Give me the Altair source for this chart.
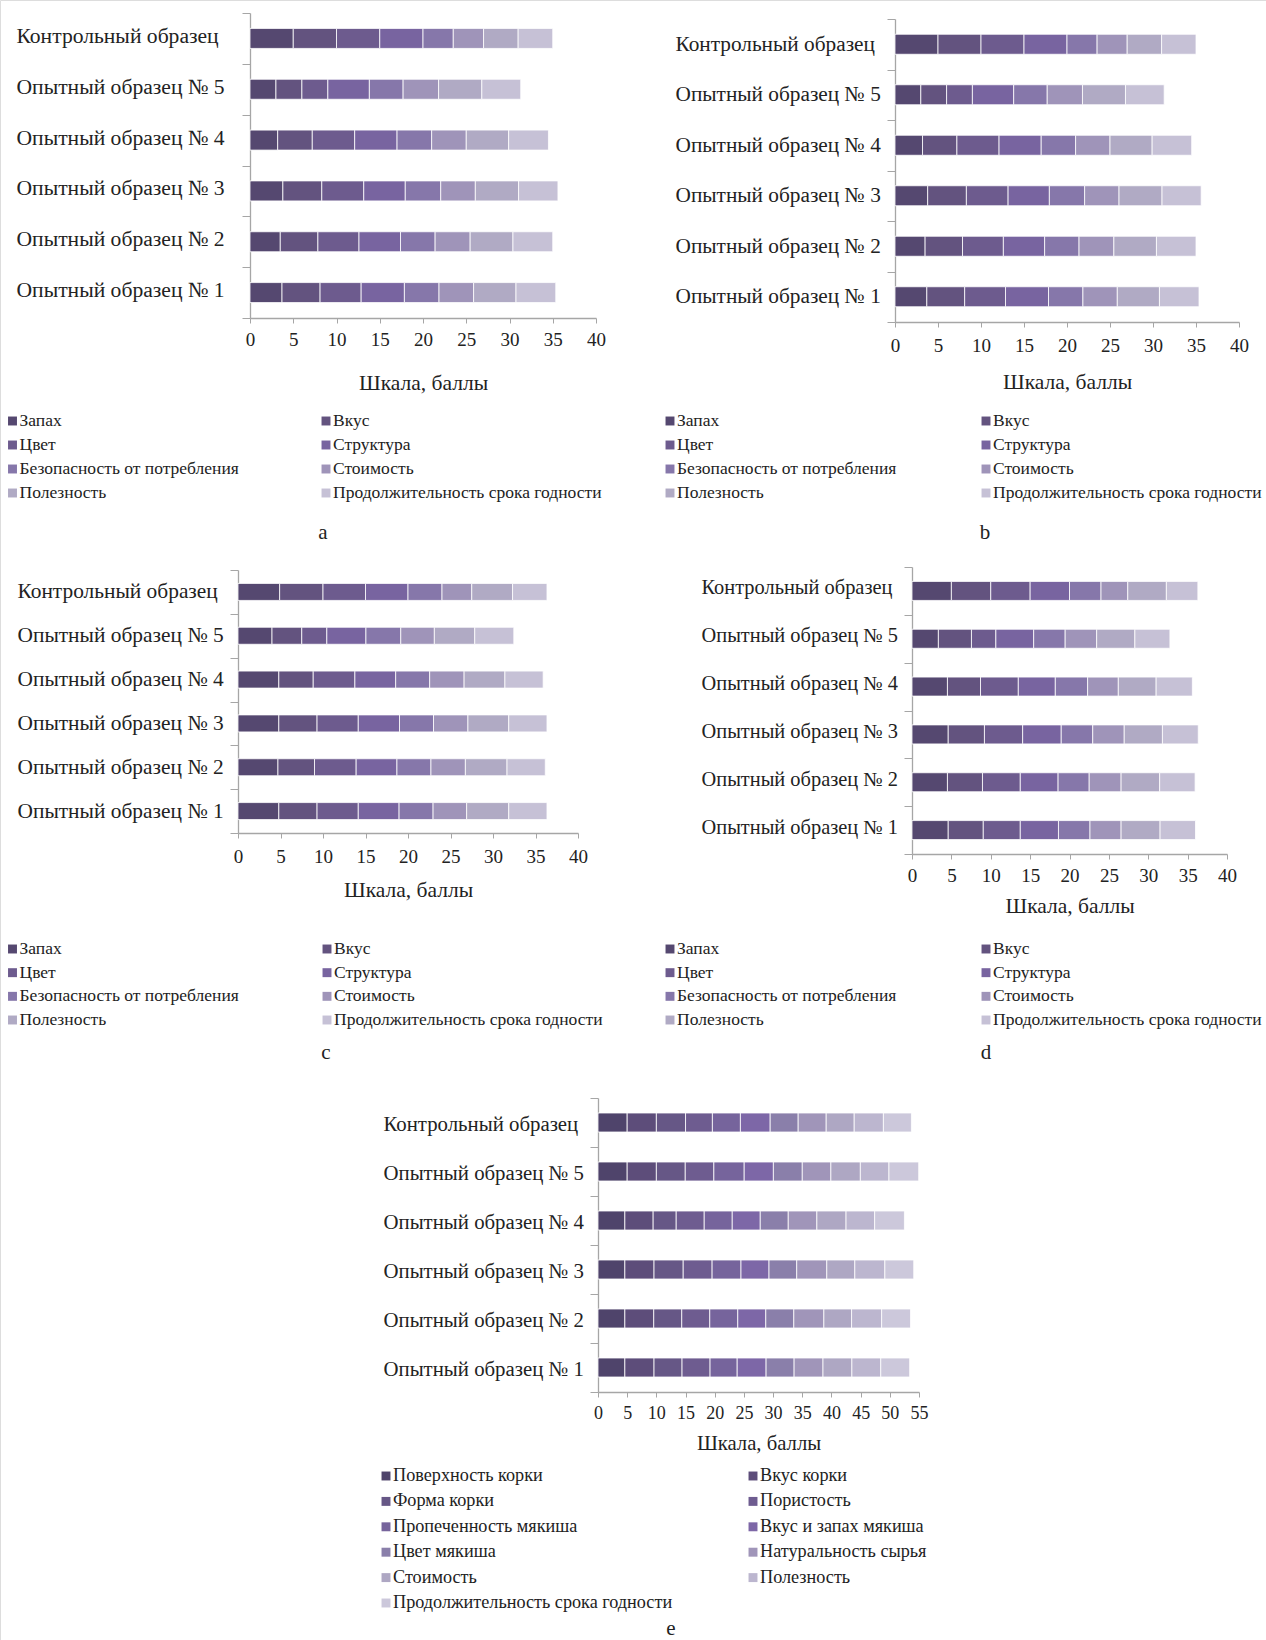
import altair as alt
import pandas as pd

samples = ["Контрольный образец", "Опытный образец № 5", "Опытный образец № 4",
           "Опытный образец № 3", "Опытный образец № 2", "Опытный образец № 1"]

crit8 = ["Запах", "Вкус", "Цвет", "Структура", "Безопасность от потребления",
         "Стоимость", "Полезность", "Продолжительность срока годности"]
crit11 = ["Поверхность корки", "Вкус корки", "Форма корки", "Пористость",
          "Пропеченность мякиша", "Вкус и запах мякиша", "Цвет мякиша",
          "Натуральность сырья", "Стоимость", "Полезность",
          "Продолжительность срока годности"]

colors8 = ["#554870", "#63537F", "#6D5B8E", "#7864A0", "#8677AA", "#9F94B9", "#B0AAC4", "#C6C1D6"]
colors11 = ["#4F446B", "#5D4D7A", "#665786", "#6E5C90", "#76649C", "#7D67A7",
            "#8A7FAA", "#A095B9", "#AEA7C3", "#BCB6CF", "#CCC8DB"]

# values per sample (rows in the order of `samples`), per criterion
a_values = [
    [5, 5, 5, 5, 3.5, 3.5, 4, 4],
    [3, 3, 3, 4.8, 3.9, 4.1, 5, 4.5],
    [3.2, 4.0, 4.9, 4.9, 4.0, 4.0, 4.9, 4.6],
    [3.8, 4.5, 4.85, 4.8, 4.1, 4.0, 5.0, 4.55],
    [3.5, 4.35, 4.75, 4.8, 4.0, 4.05, 4.95, 4.6],
    [3.7, 4.4, 4.75, 5.0, 4.0, 4.0, 4.9, 4.6],
]
b_values = [
    [5, 5, 5, 5, 3.5, 3.5, 4, 4],
    [3, 3, 3, 4.8, 3.9, 4.1, 5, 4.5],
    [3.2, 4.0, 4.9, 4.9, 4.0, 4.0, 4.9, 4.6],
    [3.8, 4.5, 4.85, 4.8, 4.1, 4.0, 5.0, 4.55],
    [3.5, 4.35, 4.75, 4.8, 4.0, 4.05, 4.95, 4.6],
    [3.7, 4.4, 4.75, 5.0, 4.0, 4.0, 4.9, 4.6],
]
c_values = [
    [4.9, 5.1, 5, 5, 4, 3.5, 4.8, 4.05],
    [4.0, 3.5, 2.95, 4.6, 4.1, 3.95, 4.75, 4.6],
    [4.8, 4.05, 4.9, 4.8, 4.0, 4.05, 4.8, 4.5],
    [4.8, 4.5, 4.85, 4.85, 4.0, 4.05, 4.8, 4.5],
    [4.7, 4.3, 4.9, 4.8, 4.0, 4.05, 4.9, 4.5],
    [4.8, 4.5, 4.85, 4.8, 4.0, 3.95, 4.95, 4.5],
]
d_values = [
    [5, 5, 5, 5, 4, 3.4, 4.9, 4.0],
    [3.35, 4.2, 3.1, 4.8, 4.0, 4.0, 4.85, 4.45],
    [4.5, 4.2, 4.8, 4.7, 4.1, 3.9, 4.8, 4.6],
    [4.6, 4.6, 4.85, 4.9, 4.0, 4.0, 4.85, 4.55],
    [4.5, 4.45, 4.8, 4.8, 3.95, 4.05, 4.9, 4.5],
    [4.6, 4.45, 4.7, 4.85, 4.0, 3.95, 4.95, 4.5],
]
e_values = [
    [5, 5, 5, 4.6, 4.8, 5.1, 4.8, 4.8, 4.8, 5, 4.8],
    [5, 5, 4.95, 4.9, 5.2, 5, 4.95, 4.9, 5.05, 4.9, 5.1],
    [4.6, 4.85, 3.95, 4.8, 4.8, 4.8, 4.8, 4.9, 5.0, 4.9, 5.1],
    [4.6, 5.0, 5.0, 4.95, 4.95, 4.8, 4.75, 5.15, 4.8, 5.15, 4.95],
    [4.6, 4.95, 4.8, 4.8, 4.8, 4.8, 4.8, 5.15, 4.75, 5.15, 4.95],
    [4.6, 5.0, 4.8, 4.8, 4.65, 4.95, 4.8, 4.95, 4.95, 4.95, 4.95],
]

x_title = "Шкала, баллы"
captions = ["a", "b", "c", "d", "e"]

FONT = "Liberation Serif"
TEXT = "#222222"
AXIS = "#A6A6A6"
W, H = 1266, 1640
YTICK = 8


def block(values, crits, colors, caption, g):
    rows = []
    for i, s in enumerate(samples):
        for j, c in enumerate(crits):
            rows.append({"sample": s, "crit": c, "idx": j, "value": values[i][j]})
    df = pd.DataFrame(rows)
    color = alt.Color("crit:N", scale=alt.Scale(domain=crits, range=colors), legend=None)

    bars = alt.Chart(df).mark_bar(stroke="white", strokeWidth=0.8, height=g["bar_h"]).encode(
        x=alt.X("value:Q", stack="zero",
                scale=alt.Scale(domain=[0, g["xmax"]], range=[g["x0"], g["x1"]], nice=False),
                axis=alt.Axis(orient="bottom", values=list(range(0, g["xmax"] + 1, 5)),
                              title=x_title, grid=False, labelFlush=False,
                              domainColor=AXIS, domainWidth=1.3, tickColor=AXIS, tickSize=5,
                              labelFont=FONT, labelFontSize=g["tick_fs"], labelColor=TEXT,
                              labelPadding=g["tick_pad"], titleFont=FONT, titleFontSize=g["title_fs"],
                              titleFontWeight="normal", titleColor=TEXT, titlePadding=g["title_pad"],
                              offset=-(H - g["y1"]))),
        y=alt.Y("sample:N", sort=samples,
                scale=alt.Scale(domain=samples, range=[g["y0"], g["y1"]], paddingInner=0, paddingOuter=0),
                axis=alt.Axis(orient="left", title=None, tickBand="extent", tickSize=YTICK, tickColor=AXIS,
                              domainColor=AXIS, domainWidth=1.3, labelFont=FONT, labelAlign="left",
                              labelFontSize=g["lab_fs"], labelColor=TEXT,
                              labelPadding=g["x0"] - YTICK - g["lab_left"], labelOffset=g["lab_off"],
                              labelLimit=400, offset=-g["x0"])),
        color=color,
        order=alt.Order("idx:Q"),
    )

    n = len(crits)
    nrows = (n + 1) // 2
    leg_df = pd.DataFrame({"crit": crits, "col": [j % 2 for j in range(n)],
                           "row": [j // 2 for j in range(n)]})
    lx = alt.X("col:Q", scale=alt.Scale(domain=[0, 1], range=[g["lc0"], g["lc1"]]), axis=None)
    ly = alt.Y("row:Q", scale=alt.Scale(domain=[0, nrows - 1], range=[g["lr0"], g["lr1"]]), axis=None)
    squares = alt.Chart(leg_df).mark_square(size=80, opacity=1).encode(x=lx, y=ly, color=color)
    texts = alt.Chart(leg_df).mark_text(align="left", baseline="middle", dx=7, font=FONT,
                                        fontSize=g["leg_fs"], color=TEXT).encode(x=lx, y=ly, text="crit:N")
    legend = alt.layer(squares, texts)

    cap = alt.Chart(pd.DataFrame({"t": [caption]})).mark_text(
        font=FONT, fontSize=21, color=TEXT, baseline="alphabetic", align="center"
    ).encode(text="t:N", x=alt.value(g["cx"]), y=alt.value(g["cy"]))

    return [bars, legend, cap]


common = dict(tick_fs=19, title_fs=21.5, leg_fs=17.5, tick_pad=7, lab_off=0)
ga = dict(common, x0=250, x1=596, xmax=40, y0=13, y1=318, bar_h=20, lab_fs=21.6, lab_left=16,
          lab_off=-2, title_pad=23, lc0=12.5, lc1=326, lr0=421, lr1=493, cx=323, cy=539)
gb = dict(common, x0=895, x1=1239, xmax=40, y0=19, y1=322, bar_h=20, lab_fs=21.3, lab_left=675,
          tick_pad=9, title_pad=16, lc0=670, lc1=986, lr0=421, lr1=493, cx=985, cy=539)
gc = dict(common, x0=238, x1=578, xmax=40, y0=570, y1=833, bar_h=17, lab_fs=21.4, lab_left=17,
          tick_pad=9, title_pad=13, lc0=12.5, lc1=327, lr0=949, lr1=1020, cx=326, cy=1059)
gd = dict(common, x0=912, x1=1227, xmax=40, y0=567, y1=854, bar_h=19, lab_fs=20.4, lab_left=701,
          lab_off=-3, title_pad=10, lc0=670, lc1=986, lr0=949, lr1=1020, cx=986, cy=1059)
ge = dict(common, x0=598, x1=919, xmax=55, y0=1098, y1=1392, bar_h=19, lab_fs=20.8, lab_left=383,
          lab_off=2, title_pad=11, lc0=386, lc1=753, lr0=1476, lr1=1603, cx=671, cy=1635)
ge["tick_fs"] = 18
ge["title_fs"] = 20.7
ge["leg_fs"] = 18.2

layers = []
layers += block(a_values, crit8, colors8, captions[0], ga)
layers += block(b_values, crit8, colors8, captions[1], gb)
layers += block(c_values, crit8, colors8, captions[2], gc)
layers += block(d_values, crit8, colors8, captions[3], gd)
layers += block(e_values, crit11, colors11, captions[4], ge)

chart = alt.layer(*layers).resolve_scale(
    x="independent", y="independent", color="independent"
).properties(
    width=W, height=H, autosize=alt.AutoSizeParams(type="none"), padding=0
).configure_view(stroke=None).configure(background="white")

chart.save("out.html", embed_options={"renderer": "svg", "actions": False})
